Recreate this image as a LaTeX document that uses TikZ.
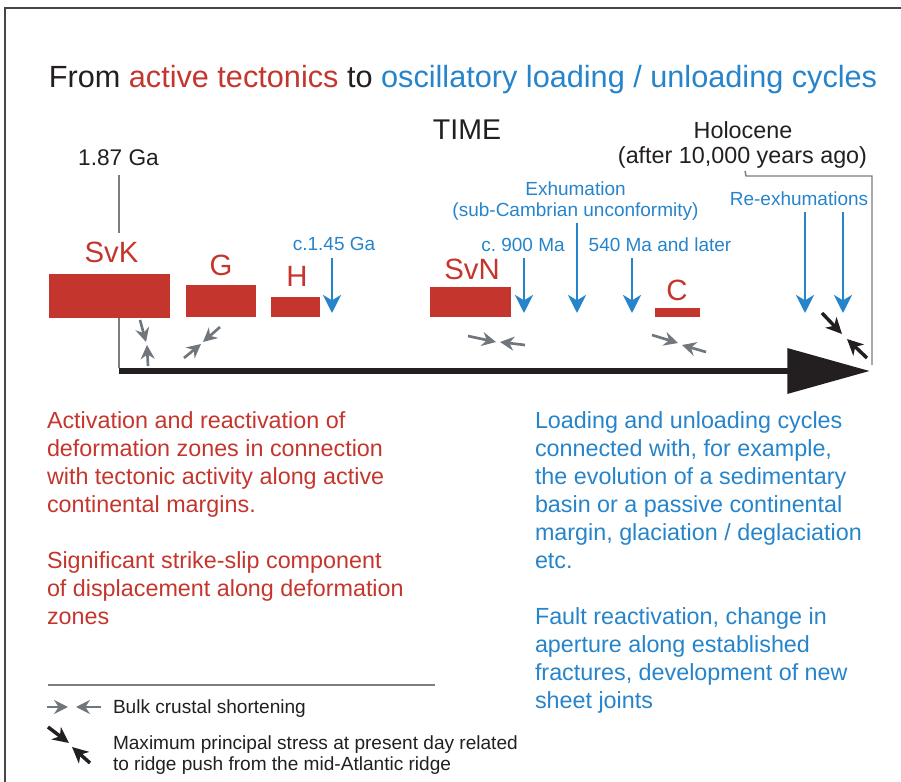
\documentclass[tikz,border=0pt]{standalone}
\usepackage{fontspec}
\setmainfont{Liberation Sans}
\usetikzlibrary{arrows.meta}
\definecolor{tred}{RGB}{196,54,45}
\definecolor{tblue}{RGB}{38,132,202}
\definecolor{agray}{RGB}{112,118,124}
\definecolor{lgray}{RGB}{125,125,125}
\definecolor{tblack}{RGB}{35,31,32}
\definecolor{framec}{RGB}{70,70,70}
\begin{document}
\begin{tikzpicture}[x=0.75pt,y=-0.75pt,
  lbl/.style={inner sep=0pt, outer sep=0pt, text=tblack},
  bodytext/.style={lbl, anchor=north west, align=left, font=\fontsize{17.5pt}{21pt}\selectfont},
  smallblue/.style={lbl, anchor=base, text=tblue, font=\fontsize{14.25pt}{16.5pt}\selectfont},
  boxlabel/.style={lbl, anchor=base, text=tred, font=\fontsize{22pt}{26pt}\selectfont},
  legendtext/.style={lbl, anchor=base west, font=\fontsize{14.3pt}{16.5pt}\selectfont},
  redbox/.style={fill=tred, draw=none, inner sep=0pt, outer sep=0pt, anchor=north west},
  bluearrow/.style={draw=tblue, line width=2.2pt, -{Stealth[length=13.5pt,width=13.5pt,inset=4pt]}},
  grayarrow/.style={draw=agray, line width=2pt, -{Stealth[length=10.5pt,width=10.5pt,inset=3.5pt]}},
  blackarrow/.style={draw=tblack, line width=2.6pt, -{Stealth[length=12pt,width=11.5pt,inset=3.5pt]}},
  thinline/.style={draw=lgray, line width=1.1pt},
]
\useasboundingbox (0,0) rectangle (901,782);

% frame
\coordinate (fr1) at (901,8);
\coordinate (fr2) at (5,8);
\coordinate (fr3) at (5,782);
\draw[framec, line width=1.1pt] (fr1) -- (fr2) -- (fr3);

% title
\node[lbl, anchor=base, font=\fontsize{23pt}{28pt}\selectfont] (title) at (463,87)
  {From \textcolor{tred}{active tectonics} to \textcolor{tblue}{oscillatory loading / unloading cycles}};

\node[lbl, anchor=base, font=\fontsize{21.4pt}{26pt}\selectfont] (time) at (467,139) {TIME};
\node[lbl, anchor=base, font=\fontsize{17pt}{21pt}\selectfont] (ga) at (118.5,165) {1.87 Ga};
\node[lbl, anchor=base, font=\fontsize{17.5pt}{21pt}\selectfont] (holo) at (743,138) {Holocene};
\node[lbl, anchor=base, font=\fontsize{17.5pt}{21pt}\selectfont] (after) at (742.5,163) {(after 10,000 years ago)};

% Holocene bracket
\coordinate (br1) at (745,171);
\coordinate (br2) at (746,176);
\coordinate (br3) at (872,176);
\coordinate (br4) at (872,365);
\draw[thinline] (br1) -- (br2) -- (br3) -- (br4);

% 1.87 Ga line
\coordinate (gl1) at (119,175);
\coordinate (gl2) at (119,233);
\coordinate (gl3) at (119,318);
\coordinate (gl4) at (119,368);
\draw[thinline] (gl1) -- (gl2);
\draw[thinline] (gl3) -- (gl4);

% red boxes
\node[redbox, minimum width=90.75pt, minimum height=33pt] (svk) at (49,274) {};
\node[redbox, minimum width=52.5pt, minimum height=24pt] (g) at (186,285) {};
\node[redbox, minimum width=36.75pt, minimum height=15pt] (h) at (271,297) {};
\node[redbox, minimum width=60.75pt, minimum height=22.5pt] (svn) at (430,287) {};
\node[redbox, minimum width=33.75pt, minimum height=6.75pt] (c) at (655,308) {};

\node[boxlabel] (svkl) at (111.5,262) {SvK};
\node[boxlabel] (gl) at (221,275) {G};
\node[boxlabel] (hl) at (297,286) {H};
\node[boxlabel] (svnl) at (472,279) {SvN};
\node[boxlabel] (cl) at (677,300) {C};

% blue labels
\node[smallblue] (b145) at (334,250) {c.1.45 Ga};
\node[smallblue] (b900) at (523,251) {c.\ 900 Ma};
\node[smallblue] (b540) at (660,251) {540 Ma and later};
\node[smallblue] (bex1) at (575.5,195) {Exhumation};
\node[smallblue] (bex2) at (575.5,216) {(sub-Cambrian unconformity)};
\node[smallblue] (bre) at (799,205) {Re-exhumations};

% blue arrows
\coordinate (ba1s) at (332,258); \coordinate (ba1e) at (332,313);
\coordinate (ba2s) at (524,258); \coordinate (ba2e) at (524,313);
\coordinate (ba3s) at (577,223); \coordinate (ba3e) at (577,313);
\coordinate (ba4s) at (632,258); \coordinate (ba4e) at (632,313);
\coordinate (ba5s) at (805,212); \coordinate (ba5e) at (805,313);
\coordinate (ba6s) at (843,212); \coordinate (ba6e) at (843,313);
\draw[bluearrow] (ba1s) -- (ba1e);
\draw[bluearrow] (ba2s) -- (ba2e);
\draw[bluearrow] (ba3s) -- (ba3e);
\draw[bluearrow] (ba4s) -- (ba4e);
\draw[bluearrow] (ba5s) -- (ba5e);
\draw[bluearrow] (ba6s) -- (ba6e);

% gray shortening arrows
\coordinate (a1s) at (140,320); \coordinate (a1e) at (146,342);
\coordinate (a2s) at (148,366); \coordinate (a2e) at (147,345);
\coordinate (b1s) at (220,327); \coordinate (b1e) at (203,342);
\coordinate (b2s) at (184,358); \coordinate (b2e) at (201,344);
\coordinate (c1s) at (468,336); \coordinate (c1e) at (496,342);
\coordinate (c2s) at (525,345); \coordinate (c2e) at (500,342);
\coordinate (d1s) at (652,335); \coordinate (d1e) at (678,343);
\coordinate (d2s) at (706,352); \coordinate (d2e) at (682,345);
\draw[grayarrow] (a1s) -- (a1e);
\draw[grayarrow] (a2s) -- (a2e);
\draw[grayarrow] (b1s) -- (b1e);
\draw[grayarrow] (b2s) -- (b2e);
\draw[grayarrow] (c1s) -- (c1e);
\draw[grayarrow] (c2s) -- (c2e);
\draw[grayarrow] (d1s) -- (d1e);
\draw[grayarrow] (d2s) -- (d2e);

% black stress arrows
\coordinate (e1s) at (822,313); \coordinate (e1e) at (842,334);
\coordinate (e2s) at (867,358); \coordinate (e2e) at (847,339);
\draw[blackarrow] (e1s) -- (e1e);
\draw[blackarrow] (e2s) -- (e2e);

% time axis
\coordinate (t0) at (119,371);
\coordinate (t1) at (870,371);
\draw[tblack, line width=5pt, -{Triangle[length=62pt,width=33pt]}] (t0) -- (t1);

% body texts (top = first baseline - strut height 19.6px)
\node[bodytext, text=tred] (red1) at (47,408.4)
  {\strut Activation and reactivation of\\deformation zones in connection\\with tectonic activity along active\\continental margins.};
\node[bodytext, text=tred] (red2) at (47,548.4)
  {\strut Significant strike-slip component\\of displacement along deformation\\zones};
\node[bodytext, text=tblue] (blue1) at (535,408.4)
  {\strut Loading and unloading cycles\\connected with, for example,\\the evolution of a sedimentary\\basin or a passive continental\\margin, glaciation / deglaciation\\etc.};
\node[bodytext, text=tblue] (blue2) at (535,604.4)
  {\strut Fault reactivation, change in\\aperture along established\\fractures, development of new\\sheet joints};

% legend
\coordinate (lg1) at (48,685);
\coordinate (lg2) at (435,685);
\draw[lgray, line width=1pt] (lg1) -- (lg2);
\coordinate (la1s) at (47,707); \coordinate (la1e) at (68,707);
\coordinate (la2s) at (101,707); \coordinate (la2e) at (76,707);
\draw[grayarrow] (la1s) -- (la1e);
\draw[grayarrow] (la2s) -- (la2e);
\coordinate (lb1s) at (48,727); \coordinate (lb1e) at (69,743);
\coordinate (lb2s) at (90,763); \coordinate (lb2e) at (72,747);
\draw[blackarrow] (lb1s) -- (lb1e);
\draw[blackarrow] (lb2s) -- (lb2e);
\node[legendtext] (leg1) at (113,713) {Bulk crustal shortening};
\node[legendtext] (leg2) at (113,749) {Maximum principal stress at present day related};
\node[legendtext] (leg3) at (113,770) {to ridge push from the mid-Atlantic ridge};
\end{tikzpicture}
\end{document}
